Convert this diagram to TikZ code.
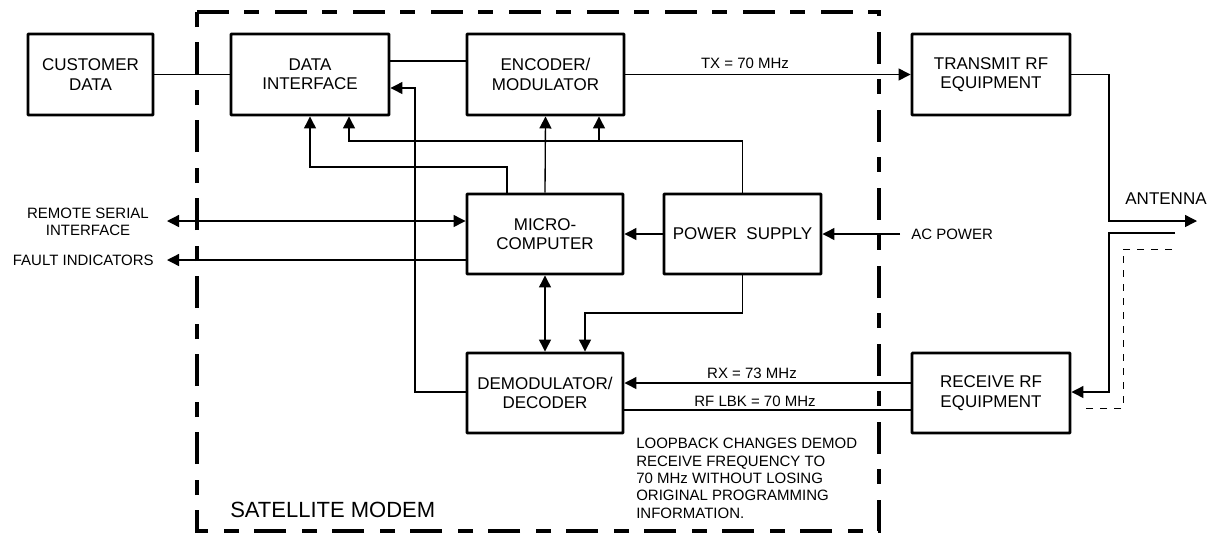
\documentclass[tikz,border=0pt]{standalone}
\usepackage{fontspec}
\setmainfont{Liberation Sans}
\usetikzlibrary{arrows.meta}
\begin{document}
\begin{tikzpicture}[x=0.75pt,y=-0.75pt,
  blk/.style={draw,line width=2.2pt,rounded corners=0.6pt,inner sep=0pt,align=center,
    font=\fontsize{12.75}{14.5}\selectfont},
  lbl/.style={inner sep=0pt,font=\fontsize{11.25}{13}\selectfont},
  conn/.style={line width=1pt},
  arr/.style={conn,-{Triangle[length=9pt,width=9pt]}},
  arrb/.style={conn,{Triangle[length=9pt,width=9pt]}-{Triangle[length=9pt,width=9pt]}},
  frame/.style={line width=2.6pt,dash pattern=on 24pt off 11.25pt on 11.25pt off 12pt},
  lbk/.style={line width=0.75pt,dash pattern=on 5.5pt off 5pt}]
\useasboundingbox (0,0) rectangle (1212,533);
% frame
\draw[frame] (197,12) -- (879,12) -- (879,531) -- (197,531) -- cycle;
% boxes
\node[blk,minimum width=93.75pt,minimum height=60.75pt] (cust) at (90.5,74.5) {CUSTOMER\\DATA};
\node[blk,minimum width=118.5pt,minimum height=60.75pt] (di) at (310,74.5) {DATA\\INTERFACE};
\node[blk,minimum width=117.75pt,minimum height=60.75pt] (enc) at (545.5,74.5) {ENCODER/\\MODULATOR};
\node[blk,minimum width=118.5pt,minimum height=60.75pt] (tx) at (991,74.5) {TRANSMIT RF\\EQUIPMENT};
\node[blk,minimum width=117pt,minimum height=60pt] (mc) at (545,234) {MICRO-\\COMPUTER};
\node[blk,minimum width=117.75pt,minimum height=60pt] (ps) at (742.5,234) {POWER\ \ SUPPLY};
\node[blk,minimum width=117pt,minimum height=60pt] (dem) at (545,393) {DEMODULATOR/\\DECODER};
\node[blk,minimum width=118.5pt,minimum height=60pt] (rx) at (991,393) {RECEIVE RF\\EQUIPMENT};
% free-end coordinates
\coordinate (rsi) at (167,221);
\coordinate (fi) at (167,260);
\coordinate (ac) at (900,234);
\coordinate (ant) at (1197,221);
\coordinate (antin) at (1175,233);
\coordinate (lbkend) at (1083,408);
\coordinate (lbkstart) at (1172,249);
% connectors
\draw[conn] (cust.east) -- (di.west);
\draw[conn] (di.east |- 0,61) -- (enc.west |- 0,61);
\draw[arr] (dem.west |- 0,392) -| (415,88) -- (di.east |- 0,88);
\draw[arr] (ps.north) |- (349,141) -- (349,0 |- di.south);
\draw[arr] (599,141) -- (599,0 |- enc.south);
\draw[arr] (507,0 |- mc.north) |- (310,167) -- (310,0 |- di.south);
\draw[arr] (mc.north) -- (enc.south);
\draw[arrb] (rsi) -- (mc.west |- rsi);
\draw[arr] (mc.west |- fi) -- (fi);
\draw[arr] (ps.west) -- (mc.east);
\draw[arr] (ac) -- (ps.east);
\draw[arr] (ps.south) |- (585,313) -- (585,0 |- dem.north);
\draw[arrb] (mc.south) -- (dem.north);
\draw[arr] (enc.east) -- (tx.west);
\draw[arr] (tx.east) -| (1109,221) -- (ant);
\draw[arr] (antin) -| (1109,392) -- (rx.east |- 0,392);
\draw[lbk] (lbkstart) -| (1123,408) -- (lbkend);
\draw[arr] (rx.west |- 0,383) -- (dem.east |- 0,383);
\draw[conn] (dem.east |- 0,410) -- (rx.west |- 0,410);
% labels
\node[lbl] (txl) at (745,63) {TX = 70 MHz};
\node[lbl] (rxl) at (752,373) {RX = 73 MHz};
\node[lbl] (lbkl) at (755,401) {RF LBK = 70 MHz};
\node[inner sep=0pt,font=\fontsize{12.75}{14.5}\selectfont] (antl) at (1166,199) {ANTENNA};
\node[lbl,anchor=west] (acl) at (911,234) {AC POWER};
\node[lbl,align=center] (rsil) at (88,222) {REMOTE SERIAL\\INTERFACE};
\node[lbl,anchor=east] (fil) at (154,260) {FAULT INDICATORS};
\node[lbl,anchor=north west,align=left,font=\fontsize{11.25}{13}\selectfont] (note) at (636,438)
  {LOOPBACK CHANGES DEMOD\\RECEIVE FREQUENCY TO\\70 MHz WITHOUT LOSING\\ORIGINAL PROGRAMMING\\INFORMATION.};
\node[inner sep=0pt,anchor=west,font=\fontsize{16.5}{18}\selectfont] (sm) at (230,510) {SATELLITE MODEM};
\end{tikzpicture}
\end{document}
